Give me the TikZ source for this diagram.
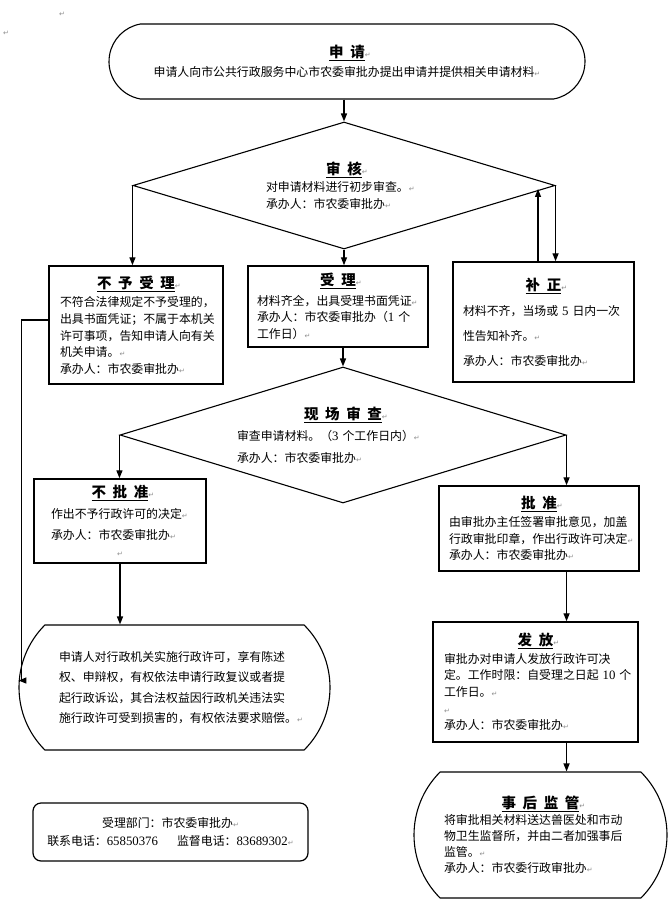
\documentclass[tikz,border=0pt]{standalone}
\usepackage{fontspec}
\setmainfont{Noto Sans CJK SC}
\newfontfamily\digitfont{Liberation Serif}
\newfontfamily\markfont{DejaVu Sans}
\usetikzlibrary{positioning, arrows.meta, shapes.geometric, shapes.misc}
\newcommand\retmark{{\markfont\fontsize{7}{7}\selectfont\textcolor{black!45}{↵}}}
\newcommand\digits[1]{{\digitfont\fontsize{12.8}{12.8}\selectfont #1}}
\newcommand\titletext{\fontsize{14.5}{16}\selectfont\bfseries\spaceskip=0.45em\relax}
\newcommand\boxtitle[1]{\hbox to\hsize{\hss\underline{\titletext #1}\rlap{\retmark}\hss}}

\begin{document}
\begin{tikzpicture}[x=1pt, y=-1pt, >={Triangle[length=8pt,width=6pt]}]
                    \tikzstyle{every node}=[font=\fontsize{11.9}{16.6}\selectfont, inner sep=0pt]
                    \tikzstyle{plainbox} = [rectangle, draw=black, line width=1.4pt, align=left]
                    \tikzstyle{checkbox} = [diamond, draw=black, line width=1.1pt, align=left]
                    \tikzstyle{capbox} = [rounded rectangle, draw=black, line width=1.1pt, align=left]
                    \tikzstyle{arrow} = [line width=1.3pt, ->]
                    \useasboundingbox (0,0) rectangle (669,920);

                    \node (markA) at (62,14) {\retmark};
                    \node (markB) at (6,33) {\retmark};

                    \node[capbox, rounded rectangle arc length=160, minimum width=476pt, minimum height=75pt, align=center] (apply) at (347,61.5)
                        {\underline{\titletext 申 请}\rlap{\retmark}\\[3pt]
                         申请人向市公共行政服务中心市农委审批办提出申请并提供相关申请材料\retmark};
                    \node[checkbox, aspect=3.32, minimum width=422pt, minimum height=127pt, text width=156pt] (review) at (344,185.5)
                        {\boxtitle{审 核}\\[1pt]
                         对申请材料进行初步审查。\retmark\\
                         承办人：市农委审批办\retmark};

                    \node[plainbox, minimum width=174pt, minimum height=118pt, text width=152pt] (refuse) at (136,325)
                        {\boxtitle{不 予 受 理}\\[2pt]
                         不符合法律规定不予受理的，\\
                         出具书面凭证；不属于本机关\\
                         许可事项，告知申请人向有关\\
                         机关申请。\retmark\\
                         承办人：市农委审批办\retmark};
                    \node[plainbox, minimum width=180pt, minimum height=81pt, text width=162pt] (accept) at (338,306.5)
                        {\boxtitle{受 理}\\[3pt]
                         材料齐全，出具受理书面凭证\retmark\\
                         承办人：市农委审批办（\digits{1}~个\\
                         工作日）\retmark};
                    \node[plainbox, minimum width=181pt, minimum height=120pt, text width=161pt, font=\fontsize{11.9}{25}\selectfont] (amend) at (543.5,322)
                        {\boxtitle{补 正}\\
                         材料不齐，当场或~\digits{5}~日内一次\\
                         性告知补齐。\retmark\\
                         承办人：市农委审批办\retmark};

                    \node[checkbox, aspect=3.28, minimum width=446pt, minimum height=136pt, text width=212pt, font=\fontsize{11.9}{21.5}\selectfont] (inspect) at (343,435)
                        {\boxtitle{现 场 审 查}\\
                         审查申请材料。（\digits{3}~个工作日内）\retmark\\
                         承办人：市农委审批办\retmark};

                    \node[plainbox, minimum width=172pt, minimum height=84pt, text width=138pt, font=\fontsize{11.9}{21}\selectfont] (deny) at (120,521)
                        {\boxtitle{不 批 准}\\
                         作出不予行政许可的决定\retmark\\
                         承办人：市农委审批办\retmark\\[-4pt]
                         \hbox to\hsize{\hss\retmark\hss}};
                    \node[plainbox, minimum width=200pt, minimum height=85pt, text width=180pt] (approve) at (539,528.5)
                        {\boxtitle{批 准}\\[1pt]
                         由审批办主任签署审批意见，加盖\\
                         行政审批印章，作出行政许可决定\retmark\\
                         承办人：市农委审批办\retmark};

                    \node[capbox, rounded rectangle arc length=90, inner xsep=-15pt, minimum width=281pt, minimum height=125pt, text width=231pt, font=\fontsize{11.9}{20.5}\selectfont] (remedy) at (174.5,687.5)
                        {申请人对行政机关实施行政许可，享有陈述\\
                         权、申辩权，有权依法申请行政复议或者提\\
                         起行政诉讼，其合法权益因行政机关违法实\\
                         施行政许可受到损害的，有权依法要求赔偿。\retmark};
                    \node[plainbox, minimum width=205pt, minimum height=120pt, text width=183pt] (issue) at (535.5,682)
                        {\boxtitle{发 放}\\[1pt]
                         审批办对申请人发放行政许可决\\
                         定。工作时限：自受理之日起~\digits{10}~个\\
                         工作日。\retmark\\
                         \retmark\\
                         承办人：市农委审批办\retmark};

                    \node[plainbox, rounded corners=8pt, line width=1.2pt, minimum width=275pt, minimum height=58pt, align=center, font=\fontsize{11.9}{18}\selectfont] (contact) at (170.5,832)
                        {受理部门：市农委审批办\retmark\\
                         联系电话：\digits{65850376}\hspace{1.6em}监督电话：\digits{83689302}\retmark};
                    \node[capbox, rounded rectangle arc length=90, inner xsep=-15pt, minimum width=223pt, minimum height=126pt, text width=193pt, font=\fontsize{11.9}{16}\selectfont] (monitor) at (540.5,835)
                        {\boxtitle{事 后 监 管}\\
                         将审批相关材料送达兽医处和市动\\
                         物卫生监督所，并由二者加强事后\\
                         监管。\retmark\\
                         承办人：市农委行政审批办\retmark};

                    \coordinate (backfoot) at ([xshift=-5.5pt]amend.north);
                    \draw[arrow] (review.north |- apply.south) -- (review.north);
                    \draw[arrow] (review.west) -- (review.west |- refuse.north);
                    \draw[arrow] (review.south) -- (review.south |- accept.north);
                    \draw[arrow] (review.east) -- (review.east |- amend.north);
                    \draw[arrow] (backfoot) -- (backfoot |- review.-1.5);
                    \draw[arrow] (inspect.north |- accept.south) -- (inspect.north);
                    \draw[arrow] (inspect.west) -- (inspect.west |- deny.north);
                    \draw[arrow] (inspect.east) -- (inspect.east |- approve.north);
                    \draw[arrow] (deny.south) -- (deny.south |- remedy.north);
                    \draw[arrow] (inspect.east |- approve.south) -- (inspect.east |- issue.north);
                    \draw[arrow] (inspect.east |- issue.south) -- (inspect.east |- monitor.north);
                    \draw[arrow] ([yshift=5pt]refuse.west) -- ++(-27,0) |- ([yshift=7pt]remedy.west);
\end{tikzpicture}
\end{document}
